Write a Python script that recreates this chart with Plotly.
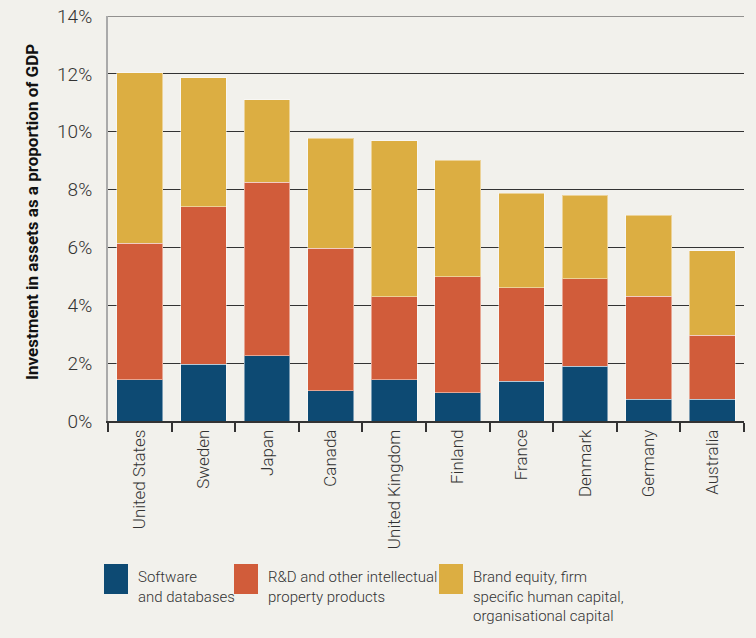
import plotly.graph_objects as go

countries = ["United States", "Sweden", "Japan", "Canada", "United Kingdom",
             "Finland", "France", "Denmark", "Germany", "Australia"]
software = [1.42, 1.97, 2.25, 1.04, 1.42, 0.97, 1.38, 1.90, 0.76, 0.76]
rnd = [4.73, 5.43, 6.01, 4.94, 2.87, 4.01, 3.22, 3.01, 3.56, 2.21]
brand = [5.88, 4.46, 2.84, 3.80, 5.39, 4.04, 3.28, 2.90, 2.80, 2.91]

names = ["Software<br>and databases",
         "R&D and other intellectual<br>property products",
         "Brand equity, firm<br>specific human capital,<br>organisational capital"]
colors = ["#0d4a73", "#d15c3a", "#dcae42"]

W, H = 756, 638
L, R, T, B = 108, 12, 16, 217
pw, ph = W - L - R, H - T - B

font = "Roboto, Liberation Sans, sans-serif"
txt = "#333333"

fig = go.Figure()
for vals, name, col in zip([software, rnd, brand], names, colors):
    fig.add_trace(go.Bar(x=countries, y=vals, name=name, marker_color=col,
                         marker_line=dict(color="rgba(255,255,255,0.45)", width=1)))

fig.update_layout(
    width=W, height=H, barmode="stack", bargap=0.28, showlegend=False,
    margin=dict(l=L, r=R, t=T, b=B),
    paper_bgcolor="#f2f1ec", plot_bgcolor="#f2f1ec",
    font=dict(family=font, color=txt),
)
fig.update_yaxes(range=[0, 14], dtick=2, tickformat=".0f", ticksuffix="%",
                 showgrid=True, gridcolor="#333333", gridwidth=1.2,
                 showline=True, linecolor="#aaaaaa", linewidth=2,
                 zeroline=False, ticks="", ticklabelstandoff=10, automargin=False,
                 tickfont=dict(size=19, color=txt, weight=300))
fig.update_xaxes(tickangle=-90, tickson="boundaries", ticks="outside", ticklen=9,
                 tickcolor="#333333", tickwidth=1.5, showline=True, automargin=False,
                 linecolor="#333333", linewidth=1.5, range=[-0.5, 9.5],
                 tickfont=dict(size=17, color=txt, weight=300))

# plotly skips the gridline at the top edge of the range, so draw it
fig.add_hline(y=14, line_color="#333333", line_width=1.2, layer="below")

# legend and axis title drawn by hand, positions in pixels -> paper coords
def px_x(v):
    return (v - L) / pw

def px_y(v):
    return (H - B - v) / ph

fig.add_annotation(text="<b>Investment in assets as a proportion of GDP</b>",
                   xref="paper", yref="paper", x=px_x(20), y=px_y(212),
                   textangle=-90, showarrow=False,
                   font=dict(size=17, color="#111111", family=font))

legend_x = [104, 234, 439]
for x0, name, col in zip(legend_x, names, colors):
    fig.add_shape(type="rect", xref="paper", yref="paper",
                  x0=px_x(x0), x1=px_x(x0 + 24), y0=px_y(594), y1=px_y(564),
                  fillcolor=col, line_width=0)
    fig.add_annotation(text=name, xref="paper", yref="paper",
                       x=px_x(x0 + 32), y=px_y(566), xanchor="left", yanchor="top",
                       align="left", showarrow=False,
                       font=dict(size=15, color=txt, family=font, weight=300))

# drop the default 8px page margin so the figure sits at the window corner
fig.write_html("out.html", config={"displayModeBar": False},
               post_script="document.body.style.margin='0px';")
